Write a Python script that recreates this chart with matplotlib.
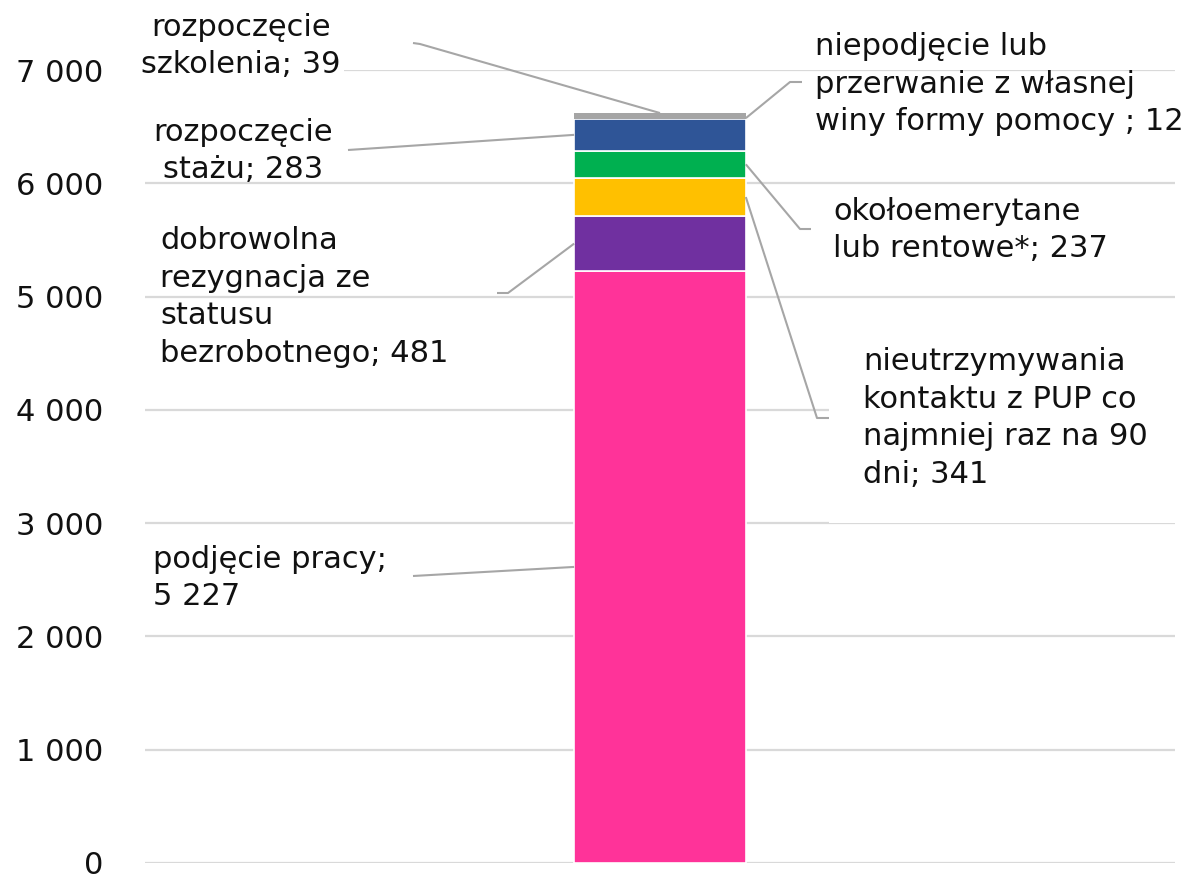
import matplotlib
matplotlib.use("Agg")
import matplotlib.pyplot as plt
from matplotlib.ticker import FuncFormatter

# ---- data (bottom to top of the stacked bar) ----
categories = ["podjęcie pracy;\n", "dobrowolna\nrezygnacja ze\nstatusu\nbezrobotnego; ",
              "nieutrzymywania\nkontaktu z PUP co\nnajmniej raz na 90\ndni; ",
              "okołoemerytane\nlub rentowe*; ", "rozpoczęcie\nstażu; ",
              "niepodjęcie lub\nprzerwanie z własnej\nwiny formy pomocy ; ",
              "rozpoczęcie\nszkolenia; "]
values = [5227, 481, 341, 237, 283, 12, 39]
colors = ["#FF3399", "#7030A0", "#FFC000", "#00B050", "#2F5597", "#A5A5A5", "#A5A5A5"]
yticks = [0, 1000, 2000, 3000, 4000, 5000, 6000, 7000]

W, H = 1190, 875
fig = plt.figure(figsize=(W / 100, H / 100), dpi=100)
L, R, T, B = 145, 1175, 70, 863
ax = fig.add_axes([L / W, 1 - B / H, (R - L) / W, (B - T) / H])
XMIN, XMAX, YMAX = -3, 3, 7000
ax.set_xlim(XMIN, XMAX)
ax.set_ylim(0, YMAX)

def fmt(v):
    return f"{int(v):,}".replace(",", " ")

# bars
bottom = 0
mids = []
for v, c in zip(values, colors):
    gray = c == "#A5A5A5"
    ax.bar(0, v, width=1.0, bottom=bottom, color=c,
           edgecolor="none" if gray else "white", linewidth=0 if gray else 1.2, zorder=3)
    mids.append(bottom + v / 2)
    bottom += v

# axes styling
for s in ax.spines.values():
    s.set_visible(False)
ax.set_yticks(yticks)
ax.yaxis.set_major_formatter(FuncFormatter(lambda v, p: fmt(v)))
ax.tick_params(axis="y", length=0, pad=30, labelsize=22, labelcolor="#111111")
ax.set_xticks([])
ax.grid(axis="y", color="#D9D9D9", linewidth=1.6, zorder=0)
ax.set_axisbelow(True)

# pixel -> data helpers (layout only)
def px(x):
    return XMIN + (x - L) / (R - L) * (XMAX - XMIN)

def py(y):
    return (B - y) / (B - T) * YMAX

FS = 22
tc = "#111111"
lc = "#A6A6A6"

# label layout
layout = [
    dict(x=153, y=578, ha="left", pad=None, pts=[(413, 576)], ax_x=-0.5),
    dict(x=160, y=297, ha="left", pad=None, pts=[(497, 293), (508, 293)], ax_x=-0.5),
    dict(x=863, y=418, ha="left", pad=1.1, pts=[(829, 418), (817, 418)], ax_x=0.5),
    dict(x=833, y=230, ha="left", pad=0.1, pts=[(811, 229), (800, 229)], ax_x=0.5),
    dict(x=243, y=151, ha="center", pad=None, pts=[(348, 150)], ax_x=-0.5),
    dict(x=815, y=84, ha="left", pad=None, pts=[(802, 82), (790, 82)], ax_x=0.5),
    dict(x=241, y=46, ha="center", pad=0.12, pts=[(413, 43), (420, 44)], ax_x=0.0),
]

for cat, v, m, lay in zip(categories, values, mids, layout):
    txt = cat + fmt(v)
    bbox = None
    if lay["pad"] is not None:
        bbox = dict(boxstyle=f"square,pad={lay['pad']}", facecolor="white", edgecolor="none")
    ax.text(px(lay["x"]), py(lay["y"]), txt, ha=lay["ha"], va="center",
            multialignment=lay["ha"], fontsize=FS, color=tc, linespacing=1.38,
            bbox=bbox, clip_on=False, zorder=5)
    xs = [px(p[0]) for p in lay["pts"]] + [lay["ax_x"]]
    ys = [py(p[1]) for p in lay["pts"]]
    y_end = m if lay["ax_x"] != 0.0 else bottom
    ys.append(y_end)
    ax.plot(xs, ys, color=lc, linewidth=1.5, clip_on=False, zorder=6,
            solid_capstyle="butt")

fig.savefig("out.png", dpi=100, facecolor="white")
